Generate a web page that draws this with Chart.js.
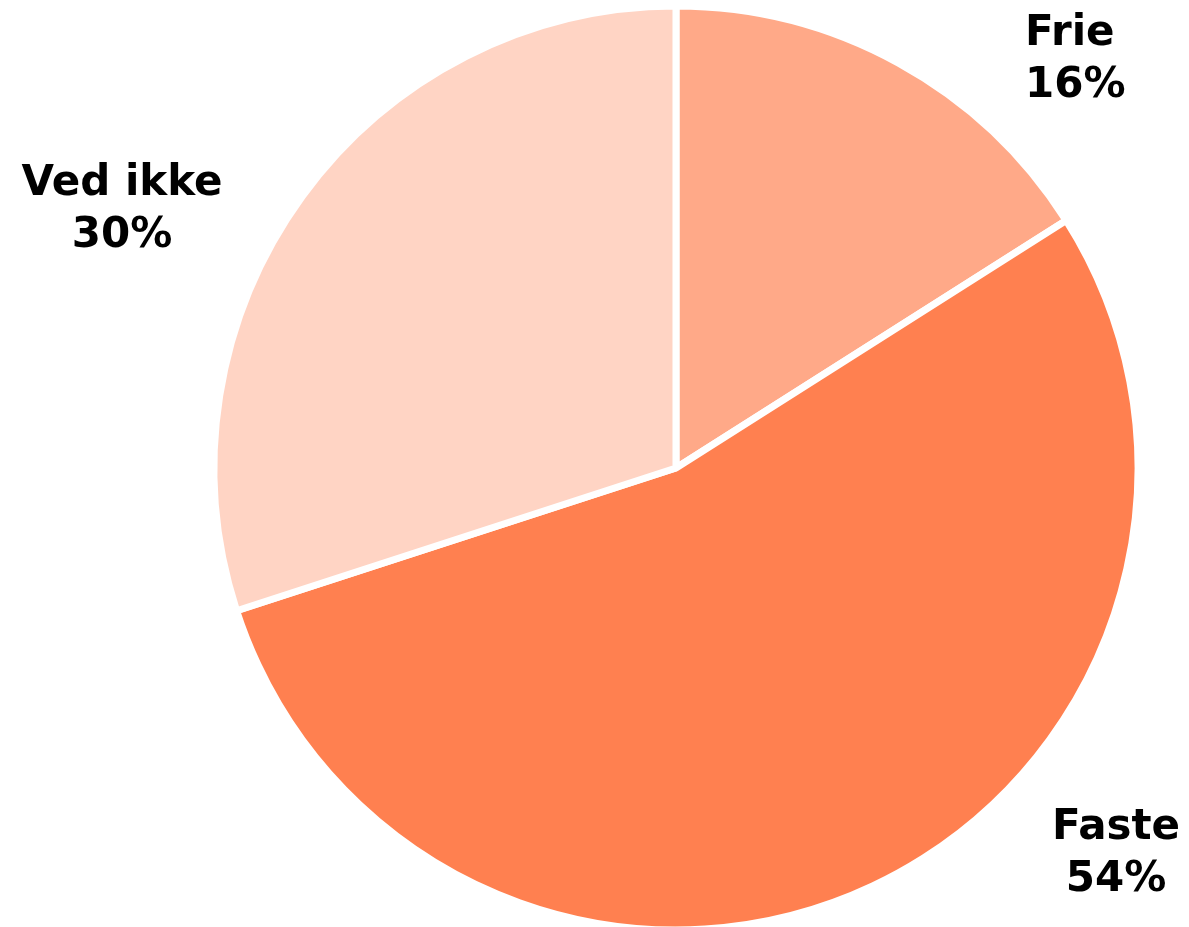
<!DOCTYPE html>
<html>
<head>
<meta charset="utf-8">
<script src="https://cdn.jsdelivr.net/npm/chart.js@4/dist/chart.umd.min.js"></script>
<style>
  html, body { margin: 0; padding: 0; background: #ffffff; }
  #wrap { width: 1189px; height: 927px; }
</style>
</head>
<body>
<div id="wrap"><canvas id="pie" width="1189" height="927"></canvas></div>
<script>
// Share of answers, clockwise from 12 o'clock
const categories = ['Frie', 'Faste', 'Ved ikke'];
const shares = [16, 54, 30];
const sliceColors = ['#FFA988', '#FF8050', '#FFD4C4'];

// Label anchor for each slice: first-line baseline, x and alignment
const labelSpots = [
  { x: 1025, y: 45, align: 'left' },
  { x: 1116, y: 839, align: 'center' },
  { x: 122, y: 195, align: 'center' }
];

const sliceLabels = {
  id: 'sliceLabels',
  afterDatasetsDraw(chart) {
    const ctx = chart.ctx;
    const ds = chart.data.datasets[0];
    ctx.save();
    ctx.fillStyle = '#000000';
    ctx.font = 'bold 42px "DejaVu Sans", Verdana, sans-serif';
    ctx.textBaseline = 'alphabetic';
    chart.data.labels.forEach((name, i) => {
      const spot = labelSpots[i];
      ctx.textAlign = spot.align;
      ctx.fillText(name, spot.x, spot.y);
      ctx.fillText(ds.data[i] + '%', spot.x, spot.y + 52);
    });
    ctx.restore();
  }
};

new Chart(document.getElementById('pie'), {
  type: 'pie',
  data: {
    labels: categories,
    datasets: [{
      data: shares,
      backgroundColor: sliceColors,
      borderColor: '#ffffff',
      borderWidth: 7
    }]
  },
  options: {
    responsive: false,
    animation: false,
    radius: 462,
    layout: { padding: { top: 9, bottom: 0, left: 217, right: 54 } },
    plugins: {
      legend: { display: false },
      tooltip: { enabled: false }
    }
  },
  plugins: [sliceLabels]
});
</script>
</body>
</html>
